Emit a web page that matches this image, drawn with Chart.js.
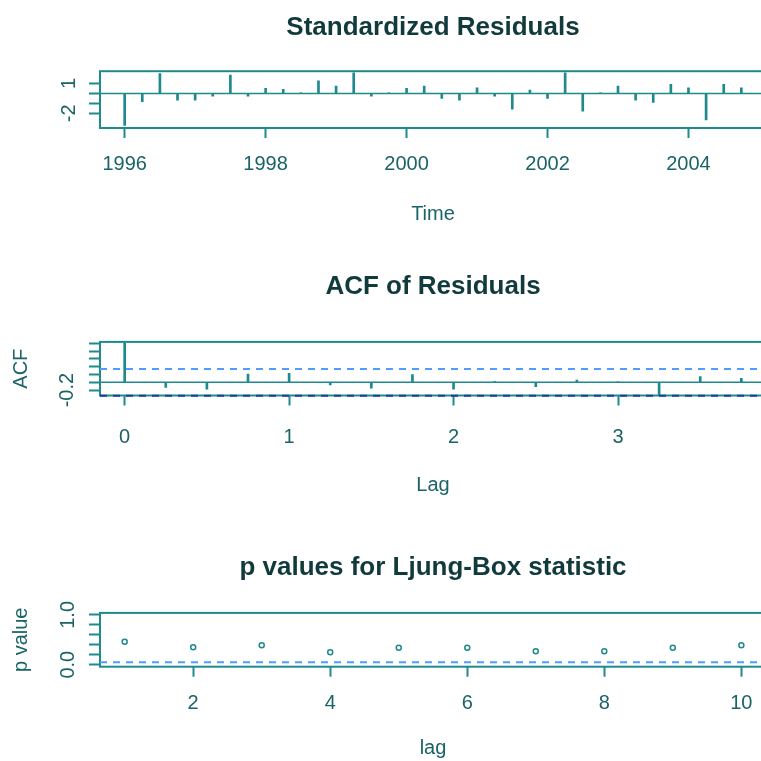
<!DOCTYPE html>
<html>
<head>
<meta charset="utf-8">
<script src="https://cdn.jsdelivr.net/npm/chart.js@4.4.1/dist/chart.umd.min.js"></script>
<style>
  html, body { margin: 0; padding: 0; overflow: hidden; background: #fff; width: 761px; height: 761px; }
  canvas { position: absolute; left: 0; }
</style>
</head>
<body>
<canvas id="residChart" width="866" height="250" style="top:0px"></canvas>
<canvas id="acfChart" width="866" height="262" style="top:250px"></canvas>
<canvas id="pvalChart" width="866" height="241" style="top:520px"></canvas>
<script>
// Standardized residuals (quarterly, 1996 Q1 - 2004 Q4)
const residTime = [1996, 1996.25, 1996.5, 1996.75, 1997, 1997.25, 1997.5, 1997.75,
  1998, 1998.25, 1998.5, 1998.75, 1999, 1999.25, 1999.5, 1999.75,
  2000, 2000.25, 2000.5, 2000.75, 2001, 2001.25, 2001.5, 2001.75,
  2002, 2002.25, 2002.5, 2002.75, 2003, 2003.25, 2003.5, 2003.75,
  2004, 2004.25, 2004.5, 2004.75];
const residValues = [-3.2, -0.83, 2.0, -0.67, -0.67, -0.27, 1.83, -0.27,
  0.5, 0.4, 0.05, 1.27, 0.73, 2.07, -0.27, 0.03,
  0.5, 0.73, -0.5, -0.67, 0.57, -0.27, -1.57, 0.33,
  -0.5, 2.07, -1.77, 0.03, 0.73, -0.67, -0.9, 0.9,
  0.57, -2.67, 0.9, 0.57];
const timeTicks = [1996, 1998, 2000, 2002, 2004];
const residYTicks = [-2, -1, 0, 1];
const residYLabels = [-2, 1];

// ACF of residuals
const acfLags = [0, 0.25, 0.5, 0.75, 1, 1.25, 1.5, 1.75, 2, 2.25, 2.5, 2.75, 3, 3.25, 3.5, 3.75];
const acfValues = [1.0, -0.13, -0.18, 0.21, 0.23, -0.07, -0.15, 0.2,
  -0.18, 0.02, -0.11, 0.06, 0.01, -0.34, 0.15, 0.1];
const acfBound = 0.345;
const lagTicks = [0, 1, 2, 3];
const acfYTicks = [-0.2, 0, 0.2, 0.4, 0.6, 0.8, 1.0];
const acfYLabels = [-0.2];

// Ljung-Box p values
const pvLags = [1, 2, 3, 4, 5, 6, 7, 8, 9, 10];
const pvValues = [0.46, 0.35, 0.39, 0.25, 0.34, 0.34, 0.27, 0.27, 0.34, 0.39];
const pvLevel = 0.05;
const pvXTicks = [2, 4, 6, 8, 10];
const pvYTicks = [0, 0.2, 0.4, 0.6, 0.8, 1.0];
const pvYLabels = [0, 1.0];

const LINE = '#1e8a8c';
const TEXT = '#1a6366';
const TITLE = '#113a3c';
const BLUE_LT = '#4f9dff';
const BLUE_DK = '#1b3d9e';

Chart.defaults.font.family = "'Liberation Sans', Arial, sans-serif";

// box round the plot region, like R's box()
const framePlugin = {
  id: 'frame',
  beforeDatasetsDraw(chart) {
    const a = chart.chartArea;
    const c = chart.ctx;
    c.save();
    c.strokeStyle = LINE;
    c.lineWidth = 2;
    c.strokeRect(a.left, a.top, a.right - a.left, a.bottom - a.top);
    c.restore();
  }
};

function hline(y, x0, x1, color, dash) {
  return {
    type: 'line',
    data: [{ x: x0, y: y }, { x: x1, y: y }],
    borderColor: color,
    borderWidth: dash ? 2 : 1.5,
    borderDash: dash || [],
    pointRadius: 0,
    clip: false,
    order: 0
  };
}

function makePanel(id, o) {
  return new Chart(document.getElementById(id), {
    type: 'bar',
    data: { datasets: o.datasets },
    options: {
      responsive: false,
      animation: false,
      layout: { padding: 0 },
      plugins: {
        legend: { display: false },
        tooltip: { enabled: false },
        title: {
          display: true,
          text: o.title,
          color: TITLE,
          font: { size: 26, weight: 'bold' },
          padding: { top: o.titlePad[0], bottom: o.titlePad[1] }
        }
      },
      scales: {
        x: {
          type: 'linear',
          min: o.xMin,
          max: o.xMax,
          offset: false,
          afterBuildTicks: s => { s.ticks = o.xTicks.map(v => ({ value: v })); },
          afterFit: s => { s.height = o.xHeight; },
          ticks: { color: TEXT, font: { size: 20 }, padding: o.xPad, maxRotation: 0, autoSkip: false,
            callback: v => String(v) },
          grid: { drawOnChartArea: false, offset: false, tickLength: 10, tickColor: LINE, tickWidth: 2 },
          border: { display: false },
          title: { display: true, text: o.xTitle, color: TEXT, font: { size: 20 }, padding: { bottom: o.xTitlePad } }
        },
        y: {
          min: o.yMin,
          max: o.yMax,
          afterBuildTicks: s => { s.ticks = o.yTicks.map(v => ({ value: v })); },
          afterFit: s => { s.width = 100; },
          ticks: { color: TEXT, font: { size: 20 }, minRotation: 90, maxRotation: 90, crossAlign: 'center',
            padding: o.yPad, autoSkip: false,
            callback: v => o.yLabels.includes(v) ? o.yFmt(v) : '' },
          grid: { drawOnChartArea: false, tickLength: 11, tickColor: LINE, tickWidth: 2 },
          border: { display: false },
          title: { display: !!o.yTitle, text: o.yTitle || '', color: TEXT, font: { size: 20 }, padding: { top: 9 } }
        },
        y2: {
          position: 'right',
          ticks: { display: false },
          grid: { display: false },
          border: { display: false },
          afterFit: s => { s.width = 100; }
        }
      }
    },
    plugins: [framePlugin]
  });
}

// Panel 1
const rxMin = 1995.65, rxMax = 2005.1;
makePanel('residChart', {
  title: 'Standardized Residuals',
  titlePad: [12, 28],
  xMin: rxMin, xMax: rxMax, xTicks: timeTicks, xHeight: 122, xPad: 14, xTitle: 'Time', xTitlePad: 24,
  yMin: -3.47, yMax: 2.23, yTicks: residYTicks, yLabels: residYLabels, yPad: 11, yFmt: v => String(v),
  datasets: [
    {
      type: 'bar',
      data: residTime.map((t, i) => ({ x: t, y: residValues[i] })),
      backgroundColor: LINE,
      borderWidth: 0,
      barThickness: 2,
      order: 1
    },
    hline(0, rxMin, rxMax, LINE)
  ]
});

// Panel 2
const axMin = -0.15, axMax = 3.9;
makePanel('acfChart', {
  title: 'ACF of Residuals',
  titlePad: [21, 39.7],
  xMin: axMin, xMax: axMax, xTicks: lagTicks, xHeight: 116.5, xPad: 19.5, xTitle: 'Lag', xTitlePad: 15,
  yMin: -0.34, yMax: 1.04, yTicks: acfYTicks, yLabels: acfYLabels, yPad: 4, yFmt: v => v.toFixed(1),
  yTitle: 'ACF',
  datasets: [
    {
      type: 'bar',
      data: acfLags.map((l, i) => ({ x: l, y: acfValues[i] })),
      backgroundColor: LINE,
      borderWidth: 0,
      barThickness: 2,
      order: 1
    },
    hline(0, axMin, axMax, LINE),
    hline(acfBound, axMin, axMax, BLUE_LT, [7, 6]),
    hline(-acfBound, axMin, axMax, BLUE_DK, [7, 6])
  ]
});

// Panel 3
const pxMin = 0.64, pxMax = 10.36;
makePanel('pvalChart', {
  title: 'p values for Ljung-Box statistic',
  titlePad: [32, 29.7],
  xMin: pxMin, xMax: pxMax, xTicks: pvXTicks, xHeight: 94.3, xPad: 14.3, xTitle: 'lag', xTitlePad: 1,
  yMin: -0.04, yMax: 1.04, yTicks: pvYTicks, yLabels: pvYLabels, yPad: 7, yFmt: v => v.toFixed(1),
  yTitle: 'p value',
  datasets: [
    {
      type: 'line',
      data: pvLags.map((l, i) => ({ x: l, y: pvValues[i] })),
      showLine: false,
      pointRadius: 2.5,
      pointBorderWidth: 1.5,
      pointBorderColor: LINE,
      pointBackgroundColor: 'rgba(0,0,0,0)',
      order: 1
    },
    hline(pvLevel, pxMin, pxMax, BLUE_LT, [7, 6])
  ]
});
</script>
</body>
</html>
